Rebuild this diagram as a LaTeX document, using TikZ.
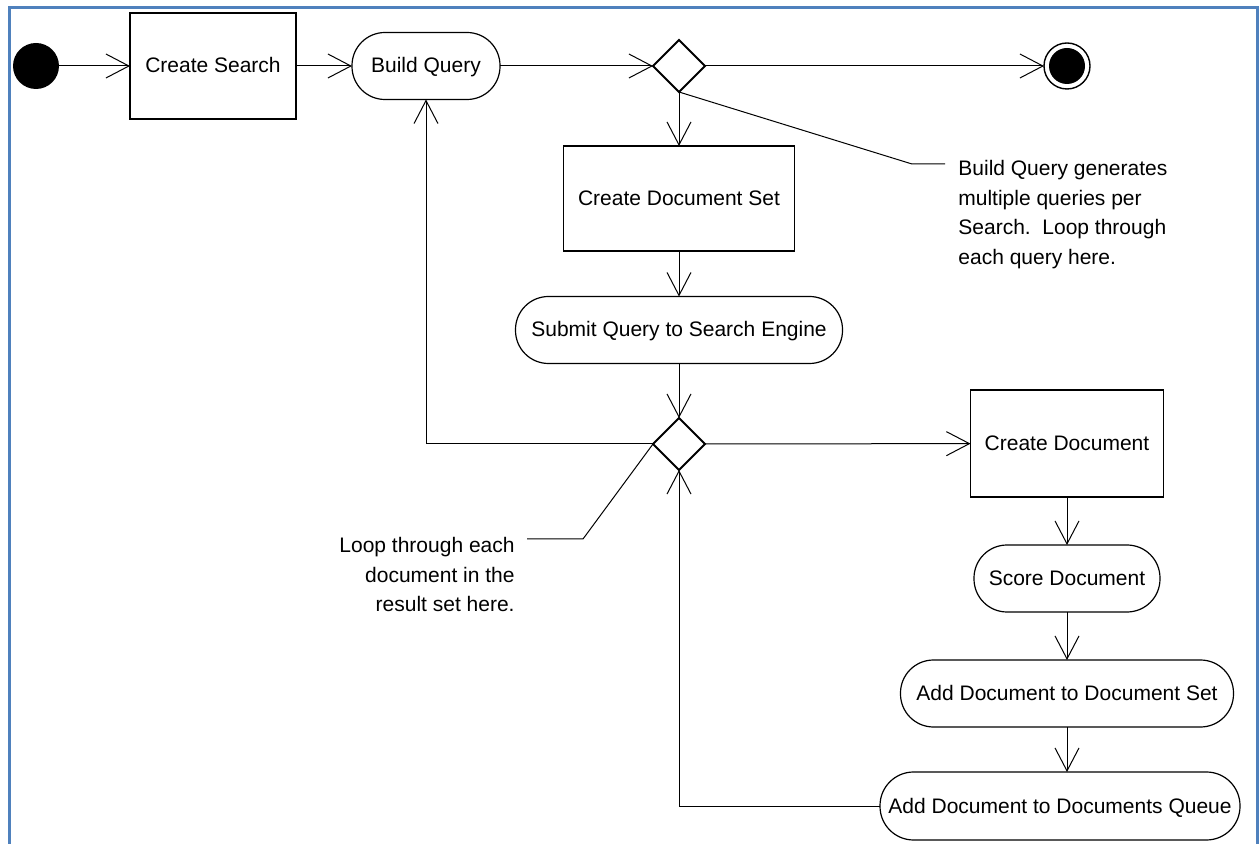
\documentclass[tikz,border=0pt]{standalone}
\usepackage{fontspec}
\setmainfont{Liberation Sans}
\usetikzlibrary{shapes.geometric,arrows.meta}
\definecolor{frameblue}{RGB}{79,129,189}
\begin{document}
\begin{tikzpicture}[x=0.5pt,y=-0.5pt,
    font=\fontsize{10.5}{14.75}\selectfont,
    action/.style={rectangle,draw,line width=0.7pt,inner sep=0pt,outer sep=0pt,text height=8pt,text depth=1pt},
    activity/.style={rectangle,rounded corners=16.5pt,draw,line width=0.6pt,inner sep=0pt,outer sep=0pt,minimum height=33.5pt,text height=8pt,text depth=1pt},
    decision/.style={diamond,draw,line width=1pt,inner sep=0pt,outer sep=0pt,minimum size=26pt},
    flow/.style={line width=0.5pt,-{Straight Barb[length=11.5pt,width=12pt]}},
    leader/.style={line width=0.5pt},
    note/.style={inner sep=0pt}]
  \useasboundingbox (0,0) rectangle (1259,844);
  \draw[frameblue,line width=1.5pt] (9,844) -- (9,8) -- (1257,8) -- (1257,844);

  \node[circle,fill,minimum size=23pt,inner sep=0pt,outer sep=0pt] (start) at (36,66) {};
  \node[action,minimum width=83pt,minimum height=53pt] (cs) at (213,66) {Create Search};
  \node[activity,minimum width=74pt] (bq) at (426,66) {Build Query};
  \node[decision] (d1) at (679,66) {};
  \node[circle,draw,line width=0.7pt,minimum size=23pt,inner sep=0pt,outer sep=0pt,
    path picture={\fill (path picture bounding box.center) circle (9pt);}] (final) at (1067,66) {};
  \node[action,minimum width=115.5pt,minimum height=52.5pt] (cds) at (679,198.5) {Create Document Set};
  \node[activity,minimum width=163.5pt] (sq) at (679,330) {Submit Query to Search Engine};
  \node[decision] (d2) at (679,444) {};
  \node[action,minimum width=96.5pt,minimum height=53.5pt] (cd) at (1067,443.5) {Create Document};
  \node[activity,minimum width=93pt] (sd) at (1067,578.5) {Score Document};
  \node[activity,minimum width=166.5pt] (ads) at (1067,693.5) {Add Document to Document Set};
  \node[activity,minimum width=180pt,minimum height=34pt,rounded corners=16.8pt] (adq) at (1060,806) {Add Document to Documents Queue};

  \node[note,align=left,anchor=north west] (n1) at (958,160) {Build Query generates\\multiple queries per\\Search.\ \ Loop through\\each query here.};
  \node[note,align=right,anchor=north east] (n2) at (515,537) {Loop through each\\document in the\\result set here.};

  \draw[flow] (start) -- (cs);
  \draw[flow] (cs) -- (bq);
  \draw[flow] (bq) -- (d1);
  \draw[flow] (d1) -- (final);
  \draw[flow] (d1) -- (cds);
  \draw[flow] (cds) -- (sq);
  \draw[flow] (sq) -- (d2);
  \draw[flow] (d2.west) -| (bq.south);
  \draw[flow] (d2) -- (cd);
  \draw[flow] (cd) -- (sd);
  \draw[flow] (sd) -- (ads);
  \draw[flow] (ads.south) -- (ads.south |- adq.north);
  \draw[flow] (adq.west) -| (d2.south);

  \coordinate (n1bend) at (912,164);
  \coordinate (n1end) at (945,164);
  \draw[leader] (d1.south) -- (n1bend) -- (n1end);
  \coordinate (n2bend) at (583,539);
  \coordinate (n2end) at (527,539);
  \draw[leader] (d2.west) -- (n2bend) -- (n2end);
\end{tikzpicture}
\end{document}
